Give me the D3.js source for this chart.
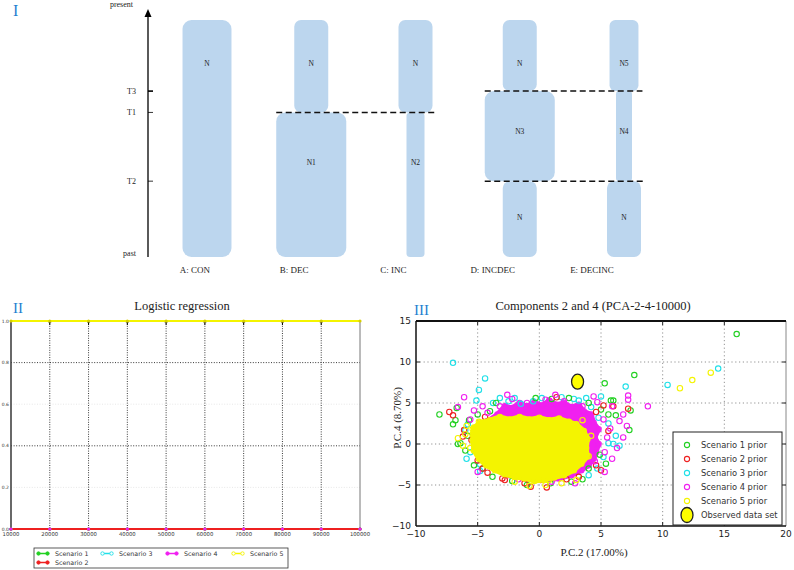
<!DOCTYPE html>
<html><head><meta charset="utf-8">
<script src="https://cdn.jsdelivr.net/npm/d3@7"></script>
<style>body{margin:0;background:#fff} svg{display:block}</style>
</head><body><svg id="c" width="794" height="570"></svg>
<script>
// ---------- Panel I data ----------
const timeLabels = ["present", "T3", "T1", "T2", "past"];
const timeValues = [0, 30, 39, 68, 100];
const scenarios = ["A: CON", "B: DEC", "C: INC", "D: INCDEC", "E: DECINC"];
const segScenario = [0, 1, 1, 2, 2, 3, 3, 3, 4, 4, 4];
const segStart = [0, 0, 39, 0, 39, 0, 30, 68, 0, 30, 68];
const segEnd = [100, 39, 100, 39, 100, 30, 68, 100, 30, 68, 100];
const segSize = [1.44, 1, 2.06, 1, 0.53, 1, 2.06, 1, 0.85, 0.47, 1.0];
const segLabel = ["N", "N", "N1", "N", "N2", "N", "N3", "N", "N5", "N4", "N"];
const segLabelTime = [18, 18, 60, 18, 60, 18, 47, 83, 18, 47, 83];
const eventTime = [39, 30, 68];
const eventFrom = [1, 3, 3];
const eventTo = [2, 4, 4];

// ---------- Panel II data ----------
const lrX = [10000, 20000, 30000, 40000, 50000, 60000, 70000, 80000, 90000, 100000];
const lrXLabels = ["10000", "20000", "30000", "40000", "50000", "60000", "70000", "80000", "90000", "100000"];
const lrYTicks = [0, 0.2, 0.4, 0.6, 0.8, 1.0];
const lrS1 = [0, 0, 0, 0, 0, 0, 0, 0, 0, 0];
const lrS2 = [0, 0, 0, 0, 0, 0, 0, 0, 0, 0];
const lrS3 = [0, 0, 0, 0, 0, 0, 0, 0, 0, 0];
const lrS4 = [0, 0, 0, 0, 0, 0, 0, 0, 0, 0];
const lrS5 = [1, 1, 1, 1, 1, 1, 1, 1, 1, 1];
const lrNames = ["Scenario 1", "Scenario 2", "Scenario 3", "Scenario 4", "Scenario 5"];

// ---------- Panel III data ----------
const pcaXTicks = [-10, -5, 0, 5, 10, 15, 20];
const pcaYTicks = [-10, -5, 0, 5, 10, 15];
const coreS4 = [[-4.2, 2.8], [-3.4, 3.6], [-2.8, 4.6], [-2.2, 4.4], [-1.6, 5.0], [-1.0, 4.6], [-0.4, 5.1], [0.2, 4.7], [0.8, 5.3], [1.4, 4.8], [2.0, 5.0], [2.6, 4.5], [3.2, 4.8], [3.6, 4.0], [4.2, 3.6], [4.4, 2.6], [4.8, 1.8], [4.5, 0.8], [4.8, 0], [4.6, -1.0], [4.4, -1.8], [4.0, -2.6], [3.4, -3.2], [2.6, -3.8], [1.6, -4.2], [0.4, -4.4], [-1, -4.3], [-2.4, -3.8], [-3.6, -3.0], [-4.4, -2.0], [-4.8, 0], [-4.7, 1.5]];
const coreS5 = [[-5.3, 2.0], [-4.8, 2.6], [-4.0, 2.9], [-3.2, 3.3], [-2.4, 3.0], [-1.6, 3.3], [-0.8, 3.0], [0, 3.2], [0.8, 2.9], [1.6, 3.1], [2.4, 2.7], [3.0, 2.4], [3.6, 1.6], [3.9, 0.6], [3.8, -0.5], [3.9, -1.5], [3.4, -2.4], [2.8, -3.2], [2.0, -3.8], [1.2, -4.1], [0.4, -4.4], [-0.4, -4.5], [-1.2, -4.2], [-2.0, -4.0], [-2.8, -3.7], [-3.6, -3.2], [-4.3, -2.6], [-4.9, -1.8], [-5.3, -0.8], [-5.4, 0.4], [-5.4, 1.2]];
const ptsS1 = [[16, 13.4], [7.7, 8.4], [5.3, 7.4], [-8.1, 3.6], [-7.0, 2.4], [-6.8, 2.9], [-6.7, 4.4], [-6.6, 0], [7.4, 4.1], [5.8, 5.3], [6.0, 5.3], [7.3, 1.7], [4.9, -1.3], [-4.6, -3.0], [-5.7, 2.9], [-6.4, 0.1], [0.9, -4.8], [2.6, -4.6], [-3.8, -4.0], [-2.2, -4.5], [1.0, 5.5], [-5.8, 1.0], [6.2, 3.5], [4.0, -3.0], [-4.0, 4.0], [-3.5, 5.0], [-0.3, 5.6], [2.4, 5.6], [4.0, 5.0], [5.0, 4.2], [5.6, 3.6], [5.4, -2.4], [3.5, -4.3], [-1.0, -5.0], [-5.3, -2.6], [-6.0, -0.8], [-5.0, 3.6]];
const ptsS2 = [[-7.3, 3.9], [-7.0, 3.5], [-6.1, 1.7], [5.2, 4.7], [7.2, 4.3], [4.6, -2.6], [-0.7, -5.2], [0.1, -4.4], [2.2, -4.3], [-5.0, -2.0], [-4.2, -3.5], [-1.2, -4.8], [3.2, -4.0], [6.0, 4.6], [-5.5, 0.5], [-3.0, -4.2], [-4.4, 3.3], [1.4, 5.7], [4.6, 3.9], [5.6, 1.6], [5.0, -3.2], [-2.8, -4.4], [-4.6, -3.0], [-6.2, 0.9], [0.6, -5.3]];
const ptsS3 = [[-7.0, 9.9], [-4.4, 8.0], [-4.9, 6.6], [-5.1, 5.3], [-3.75, 5.0], [7.0, 7.0], [6.0, 0], [5.6, 0.1], [-6.0, 1.7], [10.4, 7.2], [14.5, 9.2], [-2.5, 5.2], [-1.5, 4.9], [3.8, 5.6], [5.0, 5.8], [6.2, 1.0], [4.0, -3.8], [-4.8, -2.5], [-5.6, -1.0], [6.5, -0.2], [2.8, 5.5], [-0.5, 5.2], [-3.2, 5.6], [-2.0, 5.6], [0.2, 5.6], [1.8, 5.7], [3.2, 5.3], [4.2, 4.5], [4.8, 3.2], [5.6, 2.5], [5.2, -1.6], [4.7, -3.0], [-5.8, 2.4], [-5.9, -1.8], [-4.8, -3.3]];
const ptsS4 = [[-6.1, 5.7], [-2.2, 5.5], [7.2, 5.9], [7.2, 5.4], [8.8, 4.6], [4.7, 5.1], [7.1, 2.2], [5.75, 1.9], [4.5, -2.1], [-1.7, -4.3], [-5.3, 4.1], [-6.6, 4.5], [1.6, -4.0], [-3.2, 4.6], [-1.0, 5.0], [0.5, 5.4], [2.0, 5.2], [3.5, 4.6], [5.2, 3.0], [5.5, 0.8], [5.3, -1.0], [6.3, -0.5], [6.5, 2.8], [-4.2, 3.8], [1.0, -4.6], [-5.6, 3.0], [-4.6, 4.6], [-2.6, 6.0], [1.3, 6.0], [4.4, 5.8], [5.9, 4.6], [6.8, 3.6], [6.8, 0.8], [5.9, -1.8], [5.3, -3.4], [-5.0, -3.4], [2.9, -4.8]];
const ptsS5 = [[-6.6, 0.7], [13.9, 8.7], [12.4, 7.8], [11.4, 6.8], [0.8, -4.4], [-5.6, -0.5], [-5.4, 1.8], [-4.9, 2.7], [3.5, 2.9], [4.2, 1.0], [4.0, -1.5], [0.5, -5.0], [-2, -4.6], [-6.2, -0.2], [-6.0, 1.2], [-5.9, 2.2], [-0.8, -5.1], [1.8, -4.8], [3.0, -4.4]];
const observed = [3.1, 7.6];
const pcaLegend = ["Scenario 1 prior", "Scenario 2 prior", "Scenario 3 prior", "Scenario 4 prior", "Scenario 5 prior", "Observed data set"];

const COL = {s1: "#22d022", s2: "#ee2020", s3: "#20e0e8", s4: "#f020f0", s5: "#f4f400"};
const BLUE = "#1f7fd0";
const SERIF = "'Liberation Serif','DejaVu Serif',serif";
const SANS = "'DejaVu Sans','Liberation Sans',sans-serif";

const svg = d3.select("#c");

// ================= PANEL I =================
const g1 = svg.append("g");
const tY = d3.scaleLinear().domain([0, 100]).range([20, 257]);
const barX = d3.scalePoint().domain(d3.range(5)).range([207, 624]);
const labX = d3.scalePoint().domain(d3.range(5)).range([195, 592]);
const wS = d3.scaleLinear().domain([0, 1]).range([0, 34]);

g1.append("text").attr("x", 13).attr("y", 16).text("I")
  .attr("font-family", SERIF).attr("font-size", 16).attr("fill", BLUE);

const segs = segScenario.map((s, i) => ({s, a: segStart[i], b: segEnd[i], w: wS(segSize[i]), lab: segLabel[i], lt: segLabelTime[i]}));
g1.selectAll("rect.seg").data(segs).join("rect")
  .attr("x", d => barX(d.s) - d.w / 2).attr("y", d => tY(d.a))
  .attr("width", d => d.w).attr("height", d => tY(d.b) - tY(d.a))
  .attr("rx", d => Math.min(9, d.w * 0.2)).attr("fill", "#bcd6ee");
g1.selectAll("text.seg").data(segs).join("text")
  .attr("x", d => barX(d.s)).attr("y", d => tY(d.lt) + 3)
  .attr("text-anchor", "middle").attr("font-family", SERIF).attr("font-size", 7.5)
  .attr("fill", "#222").text(d => d.lab);

eventTime.forEach((t, i) => {
  const wf = d3.max(segs.filter(d => d.s === eventFrom[i]), d => d.w);
  const wt = d3.max(segs.filter(d => d.s === eventTo[i] && (d.a === t || d.b === t)), d => d.w);
  g1.append("line").attr("x1", barX(eventFrom[i]) - wf / 2).attr("x2", barX(eventTo[i]) + wt / 2 + 4)
    .attr("y1", tY(t)).attr("y2", tY(t)).attr("stroke", "#111").attr("stroke-width", 1.5)
    .attr("stroke-dasharray", "6,3.5");
});

const axX = 148;
g1.append("line").attr("x1", axX).attr("x2", axX).attr("y1", tY(100)).attr("y2", 14)
  .attr("stroke", "#000").attr("stroke-width", 1.3);
g1.append("path").attr("d", `M${axX - 3.5},17 L${axX},9 L${axX + 3.5},17 Z`).attr("fill", "#000");
timeValues.forEach((t, i) => {
  const y = i === 0 ? 6 : tY(t);
  if (i > 0 && i < 4) {
    g1.append("line").attr("x1", axX).attr("x2", axX + 5).attr("y1", y).attr("y2", y)
      .attr("stroke", "#000").attr("stroke-width", i === 1 ? 1.6 : 0.8);
  }
  g1.append("text").attr("x", i === 0 ? 133 : 136).attr("y", i === 0 ? 7 : (i === 4 ? y - 1 : y + 3))
    .attr("text-anchor", "end").attr("font-family", SERIF).attr("font-size", 8)
    .attr("fill", "#222").text(timeLabels[i]);
});
scenarios.forEach((s, i) => {
  g1.append("text").attr("x", labX(i)).attr("y", 273).attr("text-anchor", "middle")
    .attr("font-family", SERIF).attr("font-size", 9).attr("fill", "#222").text(s);
});

// ================= PANEL II =================
const g2 = svg.append("g");
const lx = d3.scaleLinear().domain([10000, 100000]).range([11, 360]);
const ly = d3.scaleLinear().domain([0, 1]).range([529, 321]);
g2.append("text").attr("x", 13).attr("y", 313).text("II")
  .attr("font-family", SERIF).attr("font-size", 15).attr("fill", BLUE);
g2.append("text").attr("x", 182).attr("y", 310).attr("text-anchor", "middle")
  .attr("font-family", SERIF).attr("font-size", 12.5).attr("fill", "#222").text("Logistic regression");

lrYTicks.filter(v => v > 0 && v < 1).forEach(v => {
  const strong = Math.abs(v - 0.8) < 1e-6 || Math.abs(v - 0.4) < 1e-6;
  g2.append("line").attr("x1", lx(10000)).attr("x2", lx(100000)).attr("y1", ly(v)).attr("y2", ly(v))
    .attr("stroke", strong ? "#222" : "#e4e4e4").attr("stroke-width", 0.9).attr("stroke-dasharray", "1,1.6");
});
lrX.slice(1, -1).forEach(v => {
  g2.append("line").attr("x1", lx(v)).attr("x2", lx(v)).attr("y1", ly(1)).attr("y2", ly(0))
    .attr("stroke", "#222").attr("stroke-width", 0.9).attr("stroke-dasharray", "1,1.4");
  g2.append("line").attr("x1", lx(v)).attr("x2", lx(v)).attr("y1", ly(1)).attr("y2", ly(1) + 4)
    .attr("stroke", "#000").attr("stroke-width", 1);
  g2.append("line").attr("x1", lx(v) - 1.5).attr("x2", lx(v) + 1.5).attr("y1", ly(1) + 1).attr("y2", ly(1) + 1)
    .attr("stroke", "#000").attr("stroke-width", 0.8);
});
g2.append("rect").attr("x", lx(10000)).attr("y", ly(1)).attr("width", lx(100000) - lx(10000))
  .attr("height", ly(0) - ly(1)).attr("fill", "none").attr("stroke", "#777").attr("stroke-width", 1);
g2.append("line").attr("x1", lx(10000)).attr("x2", lx(10000)).attr("y1", ly(1)).attr("y2", ly(0))
  .attr("stroke", "#333").attr("stroke-width", 1.2);

const lrSeries = [
  {v: lrS1, c: COL.s1}, {v: lrS3, c: COL.s3}, {v: lrS4, c: COL.s4}, {v: lrS2, c: COL.s2}, {v: lrS5, c: COL.s5}
];
const lline = d3.line().x((d, i) => lx(lrX[i])).y(d => ly(d));
lrSeries.forEach(s => {
  g2.append("path").attr("d", lline(s.v)).attr("fill", "none").attr("stroke", s.c).attr("stroke-width", 2);
});
[{v: lrS1, c: COL.s1}, {v: lrS3, c: COL.s3}, {v: lrS2, c: COL.s2}, {v: lrS4, c: COL.s4}, {v: lrS5, c: "#d8d000"}].forEach(s => {
  g2.selectAll(null).data(s.v).join("circle").attr("cx", (d, i) => lx(lrX[i])).attr("cy", d => ly(d))
    .attr("r", 1.6).attr("fill", s.c);
});
lrYTicks.forEach(v => {
  g2.append("text").attr("x", 9).attr("y", ly(v) + 1.5).attr("text-anchor", "end")
    .attr("font-family", SANS).attr("font-size", 4.5).attr("fill", "#333").text(v.toFixed(1));
});
lrX.forEach((v, i) => {
  g2.append("text").attr("x", lx(v)).attr("y", 535.5).attr("text-anchor", "middle")
    .attr("font-family", SANS).attr("font-size", 5.3).attr("fill", "#333").text(lrXLabels[i]);
});
g2.append("rect").attr("x", 34).attr("y", 548).attr("width", 254).attr("height", 20)
  .attr("fill", "#fff").attr("stroke", "#333").attr("stroke-width", 0.8);
const legPos = [[37, 553.5, 0, COL.s1], [37, 562.5, 1, COL.s2], [101, 553.5, 2, COL.s3], [166, 553.5, 3, COL.s4], [232, 553.5, 4, COL.s5]];
legPos.forEach(([x, y, k, c]) => {
  g2.append("line").attr("x1", x).attr("x2", x + 12).attr("y1", y).attr("y2", y).attr("stroke", c).attr("stroke-width", 1.5);
  [x + 1.5, x + 10.5].forEach(cx => g2.append("circle").attr("cx", cx).attr("cy", y).attr("r", 1.7)
    .attr("fill", k === 2 || k === 4 ? "#fff" : c).attr("stroke", c).attr("stroke-width", 0.9));
  g2.append("text").attr("x", x + 18).attr("y", y + 2.2).attr("font-family", SANS).attr("font-size", 6.3)
    .attr("fill", "#333").text(lrNames[k]);
});

// ================= PANEL III =================
const g3 = svg.append("g");
const px = d3.scaleLinear().domain([-10, 20]).range([416, 786]);
const py = d3.scaleLinear().domain([-10, 15]).range([526, 321]);
g3.append("text").attr("x", 414).attr("y", 315).text("III")
  .attr("font-family", SERIF).attr("font-size", 15).attr("fill", BLUE);
g3.append("text").attr("x", 593).attr("y", 310).attr("text-anchor", "middle")
  .attr("font-family", SERIF).attr("font-size", 12.5).attr("fill", "#222").text("Components 2 and 4  (PCA-2-4-10000)");

pcaXTicks.slice(1, -1).forEach(v => {
  g3.append("line").attr("x1", px(v)).attr("x2", px(v)).attr("y1", py(15)).attr("y2", py(-10))
    .attr("stroke", "#777").attr("stroke-width", 0.8).attr("stroke-dasharray", "1.2,2.6");
});
pcaYTicks.slice(1, -1).forEach(v => {
  g3.append("line").attr("x1", px(-10)).attr("x2", px(20)).attr("y1", py(v)).attr("y2", py(v))
    .attr("stroke", "#777").attr("stroke-width", 0.8).attr("stroke-dasharray", "1.2,2.6");
});

const blob = d3.line().x(d => px(d[0])).y(d => py(d[1])).curve(d3.curveLinearClosed);
const ring = (pts, c) => g3.selectAll(null).data(pts).join("circle")
  .attr("cx", d => px(d[0])).attr("cy", d => py(d[1])).attr("r", 2.7)
  .attr("fill", "none").attr("stroke", c).attr("stroke-width", 1.1);

g3.append("path").attr("d", blob(coreS4)).attr("fill", COL.s4).attr("stroke", COL.s4).attr("stroke-width", 5).attr("stroke-linejoin", "round");
ring(coreS4, COL.s4);
ring(ptsS3, COL.s3);
ring(ptsS1, COL.s1);
ring(ptsS2, COL.s2);
ring(ptsS4, COL.s4);
g3.append("path").attr("d", blob(coreS5)).attr("fill", COL.s5).attr("stroke", COL.s5).attr("stroke-width", 5).attr("stroke-linejoin", "round");
ring(coreS5, COL.s5);
ring(ptsS5, COL.s5);

g3.append("ellipse").attr("cx", px(observed[0])).attr("cy", py(observed[1])).attr("rx", 6).attr("ry", 7.5)
  .attr("fill", "#ffff00").attr("stroke", "#222").attr("stroke-width", 1.3);

g3.append("line").attr("x1", px(20)).attr("x2", px(20)).attr("y1", py(15)).attr("y2", py(-10)).attr("stroke", "#888").attr("stroke-width", 1);
g3.append("line").attr("x1", px(-10)).attr("x2", px(20)).attr("y1", py(15)).attr("y2", py(15)).attr("stroke", "#111").attr("stroke-width", 2);
g3.append("line").attr("x1", px(-10)).attr("x2", px(20)).attr("y1", py(-10)).attr("y2", py(-10)).attr("stroke", "#111").attr("stroke-width", 1.5);
g3.append("line").attr("x1", px(-10)).attr("x2", px(-10)).attr("y1", py(15)).attr("y2", py(-10)).attr("stroke", "#111").attr("stroke-width", 1.5);
pcaXTicks.slice(1, -1).forEach(v => {
  g3.append("line").attr("x1", px(v)).attr("x2", px(v)).attr("y1", py(15)).attr("y2", py(15) + 4).attr("stroke", "#222");
  g3.append("line").attr("x1", px(v)).attr("x2", px(v)).attr("y1", py(-10)).attr("y2", py(-10) - 4).attr("stroke", "#222");
});
pcaYTicks.slice(1, -1).forEach(v => {
  g3.append("line").attr("x1", px(-10)).attr("x2", px(-10) + 4).attr("y1", py(v)).attr("y2", py(v)).attr("stroke", "#222");
  g3.append("line").attr("x1", px(20)).attr("x2", px(20) - 4).attr("y1", py(v)).attr("y2", py(v)).attr("stroke", "#222");
});
pcaXTicks.forEach(v => {
  g3.append("text").attr("x", px(v)).attr("y", 537).attr("text-anchor", "middle")
    .attr("font-family", SANS).attr("font-size", 9).attr("fill", "#222").text(v < 0 ? "\u2212" + Math.abs(v) : v);
});
pcaYTicks.forEach(v => {
  g3.append("text").attr("x", 411).attr("y", py(v) + 3).attr("text-anchor", "end")
    .attr("font-family", SANS).attr("font-size", 9).attr("fill", "#222").text(v < 0 ? "\u2212" + Math.abs(v) : v);
});
g3.append("text").attr("x", 594).attr("y", 556).attr("text-anchor", "middle")
  .attr("font-family", SERIF).attr("font-size", 11).attr("fill", "#222").text("P.C.2 (17.00%)");
g3.append("text").attr("transform", "translate(401,418) rotate(-90)").attr("text-anchor", "middle")
  .attr("font-family", SERIF).attr("font-size", 11).attr("fill", "#222").text("P.C.4 (8.70%)");

const lg = g3.append("g");
lg.append("rect").attr("x", 673).attr("y", 432).attr("width", 109).attr("height", 93)
  .attr("fill", "#fff").attr("stroke", "#222").attr("stroke-width", 1);
const legCols = [COL.s1, COL.s2, COL.s3, COL.s4, COL.s5];
pcaLegend.forEach((t, i) => {
  const y = 445 + i * 14;
  if (i < 5) {
    lg.append("circle").attr("cx", 687).attr("cy", y).attr("r", 2.6).attr("fill", "none")
      .attr("stroke", legCols[i]).attr("stroke-width", 1.1);
  } else {
    lg.append("ellipse").attr("cx", 687).attr("cy", y).attr("rx", 6).attr("ry", 7.5)
      .attr("fill", "#ffff00").attr("stroke", "#222").attr("stroke-width", 1.3);
  }
  lg.append("text").attr("x", 701).attr("y", y + 3).attr("font-family", SANS).attr("font-size", 8.3)
    .attr("fill", "#333").text(t);
});
</script>
</body></html>
